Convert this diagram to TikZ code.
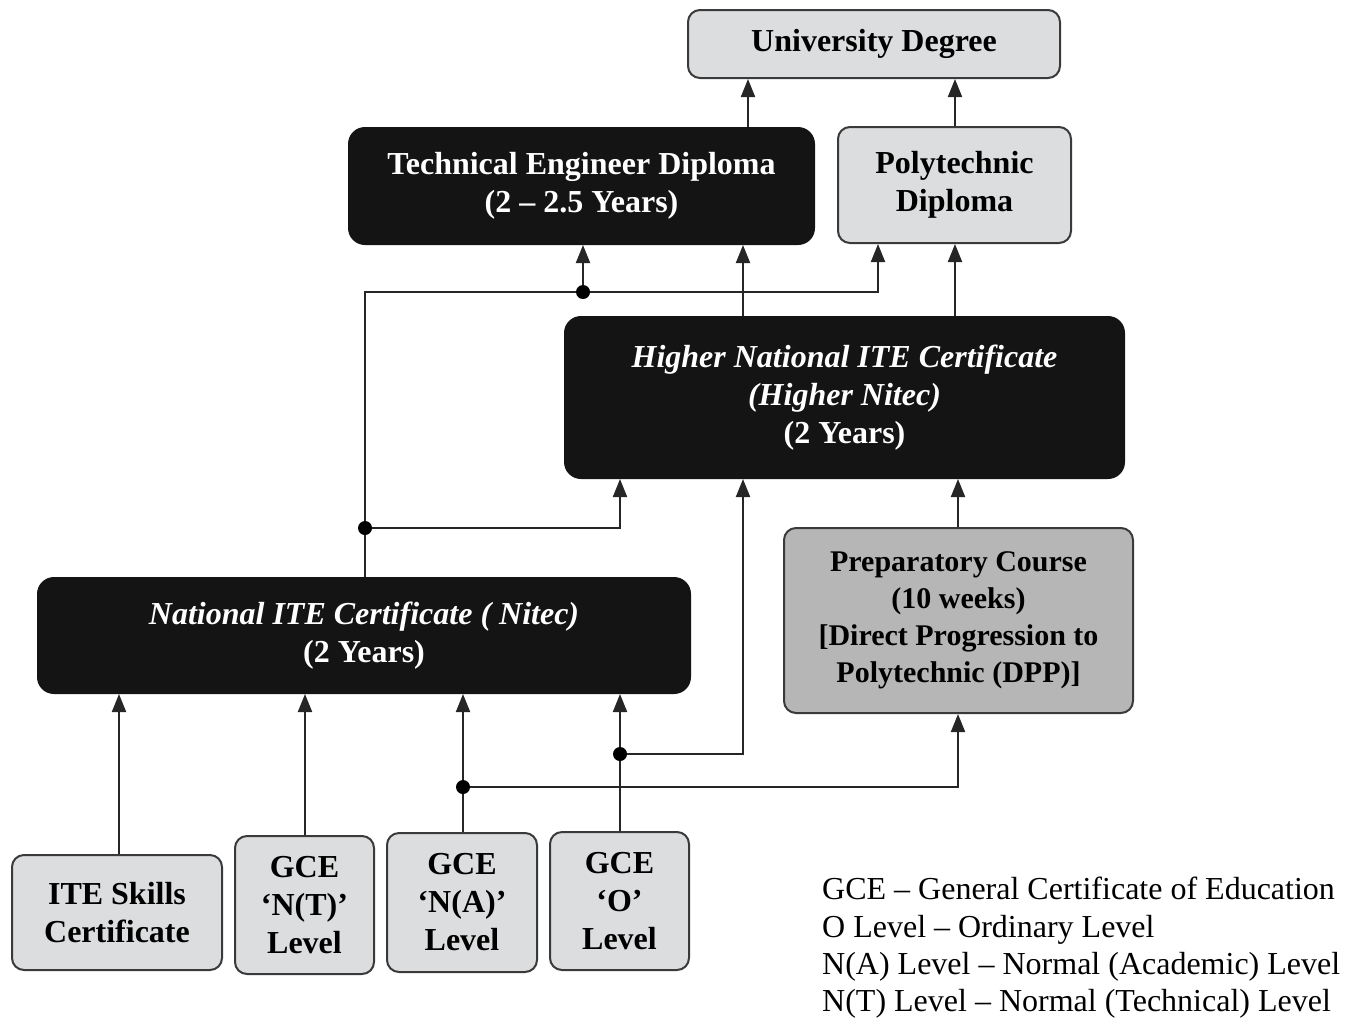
\documentclass[tikz,border=0pt]{standalone}
\usepackage{fontspec}
\setmainfont{Liberation Serif}
\usetikzlibrary{arrows.meta}
\definecolor{lgray}{HTML}{DCDDDE}
\definecolor{mgray}{HTML}{B6B6B6}
\definecolor{edge}{HTML}{3A3A3A}
\definecolor{dark}{HTML}{141414}
\tikzset{
  box/.style={draw=edge, line width=2pt, rounded corners=12pt, align=center, inner sep=0pt,
    font=\fontsize{32}{38}\selectfont\bfseries},
  lbox/.style={box, fill=lgray, text=black},
  gbox/.style={box, fill=mgray, text=black, font=\fontsize{30}{37}\selectfont\bfseries},
  bbox/.style={box, fill=dark, draw=dark, text=white, rounded corners=16pt},
  conn/.style={line width=2pt, draw=black!85},
  arr/.style={conn, -{Triangle[length=18pt,width=14pt]}},
  dot/.style={circle, fill=black, inner sep=0pt, minimum size=14pt}
}
\begin{document}
\begin{tikzpicture}[x=1pt,y=-1pt]
\useasboundingbox (0,0) rectangle (1348,1018);
% boxes
\node[lbox, minimum width=372pt, minimum height=68pt] (univ) at (874,44) {University Degree};
\node[bbox, minimum width=465pt, minimum height=116pt] (ted) at (581.5,186) {Technical Engineer Diploma\\(2 -- 2.5 Years)};
\node[lbox, minimum width=233pt, minimum height=116pt] (poly) at (954.5,185) {Polytechnic\\Diploma};
\node[bbox, minimum width=559pt, minimum height=161pt] (hn) at (844.5,397.5) {\itshape Higher National ITE Certificate\\\itshape (Higher Nitec)\\(2 Years)};
\node[gbox, minimum width=349pt, minimum height=185pt] (prep) at (958.5,620.5) {Preparatory Course\\(10 weeks)\\{[}Direct Progression to\\Polytechnic (DPP){]}};
\node[bbox, minimum width=652pt, minimum height=115pt] (nitec) at (364,635.5) {\itshape National ITE Certificate ( Nitec)\\(2 Years)};
\node[lbox, minimum width=210pt, minimum height=115pt] (ite) at (117,912.5) {ITE Skills\\Certificate};
\node[lbox, minimum width=139pt, minimum height=138pt] (nt) at (304.5,905) {GCE\\`N(T)'\\Level};
\node[lbox, minimum width=150pt, minimum height=139pt] (na) at (462,902.5) {GCE\\`N(A)'\\Level};
\node[lbox, minimum width=139pt, minimum height=138pt] (ol) at (619.5,901) {GCE\\`O'\\Level};
\node[anchor=north west, align=left, inner sep=0pt, font=\fontsize{32}{37.4}\selectfont] (legend) at (822,877)
  {GCE -- General Certificate of Education\\O Level -- Ordinary Level\\N(A) Level -- Normal (Academic) Level\\N(T) Level -- Normal (Technical) Level};
% columns
\coordinate (cA) at (365,0);
\coordinate (cC) at (743,0);
\coordinate (cD) at (878,0);
\coordinate (cE) at (955,0);
\coordinate (cF) at (620,0);
\coordinate (cG) at (958,0);
\coordinate (cH) at (119,0);
\coordinate (cI) at (305,0);
\coordinate (cJ) at (463,0);
\coordinate (cK) at (748,0);
% junctions
\coordinate (j1) at (583,292);
\coordinate (j2) at (365,528);
\coordinate (j3) at (463,787);
\coordinate (j4) at (620,754);
% connectors
\draw[arr] (cK |- ted.north) -- (cK |- univ.south);
\draw[arr] (cE |- poly.north) -- (cE |- univ.south);
\draw[arr] (cA |- nitec.north) -- (cA |- j1) -| (cD |- poly.south);
\draw[arr] (j1) -- (j1 |- ted.south);
\draw[arr] (j2) -| (cF |- hn.south);
\draw[arr] (cC |- hn.north) -- (cC |- ted.south);
\draw[arr] (cE |- hn.north) -- (cE |- poly.south);
\draw[arr] (cG |- prep.north) -- (cG |- hn.south);
\draw[arr] (cH |- ite.north) -- (cH |- nitec.south);
\draw[arr] (cI |- nt.north) -- (cI |- nitec.south);
\draw[arr] (cJ |- na.north) -- (cJ |- nitec.south);
\draw[arr] (cF |- ol.north) -- (cF |- nitec.south);
\draw[arr] (j3) -| (cG |- prep.south);
\draw[arr] (j4) -| (cC |- hn.south);
\node[dot] at (j1) {};
\node[dot] at (j2) {};
\node[dot] at (j3) {};
\node[dot] at (j4) {};
\end{tikzpicture}
\end{document}
